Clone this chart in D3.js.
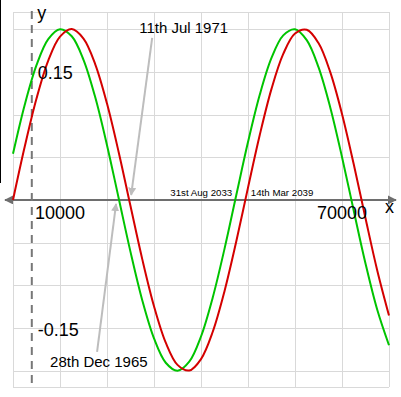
<!DOCTYPE html>
<html>
<head>
  <meta charset="utf-8">
  <title>two sine waves</title>
  <script src="https://d3js.org/d3.v7.min.js"></script>
  <style>
    body { margin: 0; background: #ffffff; }
    text { font-family: "Liberation Sans", Arial, sans-serif; fill: #000; }
  </style>
</head>
<body>
<svg width="401" height="397"></svg>

<script>
  // x values (days), sampled every 2500
  var days = [0, 2500, 5000, 7500, 10000, 12500, 15000, 17500, 20000, 22500,
              25000, 27500, 30000, 32500, 35000, 37500, 40000, 42500, 45000, 47500,
              50000, 52500, 55000, 57500, 60000, 62500, 65000, 67500, 70000, 72500,
              75000, 77500, 80000];

  // red curve
  var redValues = [0, 0.0625, 0.1187, 0.1631, 0.1911, 0.2000, 0.1888, 0.1588, 0.1128, 0.0556,
                   -0.0072, -0.0693, -0.1244, -0.1671, -0.1931, -0.1997, -0.1863, -0.1543, -0.1068, -0.0487,
                   0.0144, 0.0760, 0.1300, 0.1709, 0.1948, 0.1992, 0.1836, 0.1496, 0.1007, 0.0417,
                   -0.0215, -0.0826, -0.1354];

  // green curve
  var greenValues = [0.0540, 0.1115, 0.1578, 0.1883, 0.1999, 0.1916, 0.1641, 0.1201, 0.0641, 0.0017,
                     -0.0608, -0.1174, -0.1621, -0.1906, -0.2000, -0.1894, -0.1599, -0.1142, -0.0573, 0.0055,
                     0.0677, 0.1231, 0.1662, 0.1926, 0.1998, 0.1870, 0.1554, 0.1083, 0.0503, -0.0127,
                     -0.0744, -0.1286, -0.1701];

  var xGrid = [0, 10000, 20000, 30000, 40000, 50000, 60000, 70000, 80000];
  var yGrid = [-0.2, -0.15, -0.1, -0.05, 0.05, 0.1, 0.15, 0.2];
  var xTickLabels = [10000, 70000];
  var yTickLabels = [0.15, -0.15];
  var yAxisAt = 4000;

  // annotations: big ones with a pointer, small ones on the axis
  var bigNotes = ["11th Jul 1971", "28th Dec 1965"];
  var bigNoteDays = [24718, 22568];
  var smallNotes = ["31st Aug 2033", "14th Mar 2039"];
  var smallNoteDays = [47286, 49436];

  var svg = d3.select("svg");

  var x = d3.scaleLinear().domain([0, 80000]).range([13, 389]);
  var y = d3.scaleLinear().domain([-0.219, 0.22]).range([387, 12]);

  // left page edge line
  svg.append("line")
     .attr("x1", 0.5).attr("x2", 0.5).attr("y1", 0).attr("y2", 183)
     .attr("stroke", "#000").attr("stroke-width", 1);

  // grid
  var grid = svg.append("g").attr("stroke", "#d9d9d9").attr("stroke-width", 1);
  grid.selectAll("line.v").data(xGrid).enter().append("line")
      .attr("x1", function(d) { return Math.round(x(d)) + 0.5; })
      .attr("x2", function(d) { return Math.round(x(d)) + 0.5; })
      .attr("y1", y.range()[1]).attr("y2", y.range()[0]);
  grid.selectAll("line.h").data(yGrid.concat(y.domain())).enter().append("line")
      .attr("y1", function(d) { return Math.round(y(d)) + 0.5; })
      .attr("y2", function(d) { return Math.round(y(d)) + 0.5; })
      .attr("x1", x.range()[0]).attr("x2", x.range()[1]);

  var defs = svg.append("defs");
  defs.append("marker")
      .attr("id", "axisArrow")
      .attr("viewBox", "0 0 10 10").attr("refX", 9).attr("refY", 5)
      .attr("markerWidth", 4.5).attr("markerHeight", 4.5)
      .attr("orient", "auto-start-reverse")
      .append("path").attr("d", "M0,0 L10,5 L0,10 z").attr("fill", "#6e6e6e");
  defs.append("marker")
      .attr("id", "noteArrow")
      .attr("viewBox", "0 0 10 10").attr("refX", 9).attr("refY", 5)
      .attr("markerWidth", 4).attr("markerHeight", 4)
      .attr("orient", "auto")
      .append("path").attr("d", "M0,0 L10,5 L0,10 z").attr("fill", "#bdbdbd");

  // x axis
  svg.append("line")
     .attr("x1", 5).attr("x2", 396)
     .attr("y1", y(0)).attr("y2", y(0))
     .attr("stroke", "#6e6e6e").attr("stroke-width", 2)
     .attr("marker-start", "url(#axisArrow)")
     .attr("marker-end", "url(#axisArrow)");

  // dashed y axis
  svg.append("line")
     .attr("x1", x(yAxisAt)).attr("x2", x(yAxisAt))
     .attr("y1", 11).attr("y2", y.range()[0])
     .attr("stroke", "#777").attr("stroke-width", 2)
     .attr("stroke-dasharray", "8,6");

  // curves
  var line = d3.line()
      .x(function(d) { return x(d[0]); })
      .y(function(d) { return y(d[1]); })
      .curve(d3.curveCatmullRom);

  svg.append("path")
     .datum(d3.zip(days, greenValues))
     .attr("d", line).attr("fill", "none")
     .attr("stroke", "#00c400").attr("stroke-width", 2);
  svg.append("path")
     .datum(d3.zip(days, redValues))
     .attr("d", line).attr("fill", "none")
     .attr("stroke", "#d40000").attr("stroke-width", 2);

  // tick labels
  svg.selectAll("text.xt").data(xTickLabels).enter().append("text")
     .attr("x", function(d) { return x(d); })
     .attr("y", y(0) + 19.5)
     .attr("text-anchor", "middle")
     .style("font-size", "18px")
     .text(function(d) { return d; });
  svg.selectAll("text.yt").data(yTickLabels).enter().append("text")
     .attr("x", x(yAxisAt) + 6)
     .attr("y", function(d) { return y(d) + 7.5; })
     .style("font-size", "18px")
     .text(function(d) { return d; });

  // axis names
  svg.append("text").attr("x", 385).attr("y", 213).style("font-size", "18px").text("x");
  svg.append("text").attr("x", x(yAxisAt) + 5.5).attr("y", 19).style("font-size", "18px").text("y");

  // big notes with pointers
  var pointerFrom = [[23, -162], [-22, 152]];
  var pointerTo = [[2, -5], [-3, 4]];
  var labelAt = [[10, -167], [-69, 167]];
  bigNotes.forEach(function(t, i) {
    var px = x(bigNoteDays[i]), py = y(0);
    svg.append("line")
       .attr("x1", px + pointerFrom[i][0]).attr("y1", py + pointerFrom[i][1])
       .attr("x2", px + pointerTo[i][0]).attr("y2", py + pointerTo[i][1])
       .attr("stroke", "#bdbdbd").attr("stroke-width", 2)
       .attr("marker-end", "url(#noteArrow)");
    svg.append("text")
       .attr("x", px + labelAt[i][0]).attr("y", py + labelAt[i][1])
       .style("font-size", "15px")
       .text(t);
  });

  // small notes on the axis
  svg.append("text")
     .attr("x", x(smallNoteDays[0]) - 3).attr("y", y(0) - 4)
     .attr("text-anchor", "end")
     .style("font-size", "9.7px")
     .text(smallNotes[0]);
  svg.append("text")
     .attr("x", x(smallNoteDays[1]) + 5.5).attr("y", y(0) - 4)
     .style("font-size", "9.7px")
     .text(smallNotes[1]);
</script>
</body>
</html>
